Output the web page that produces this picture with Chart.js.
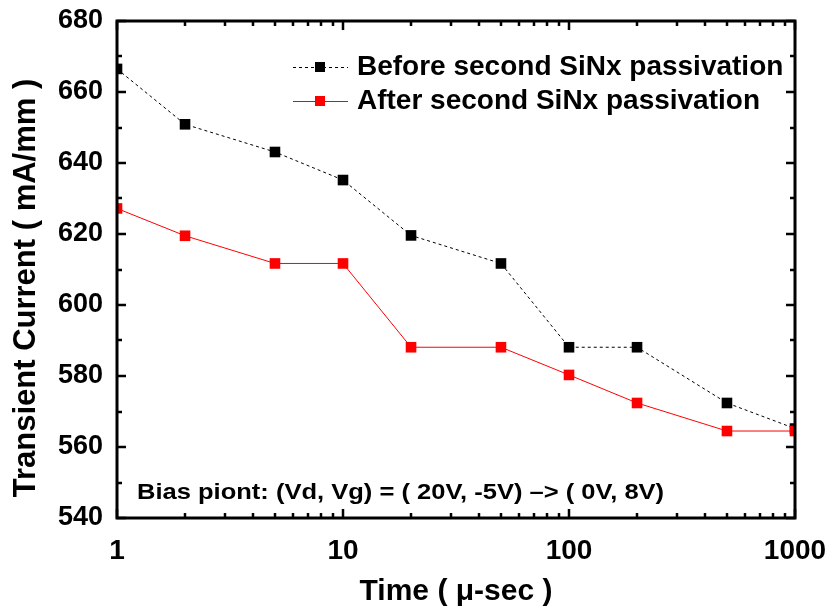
<!DOCTYPE html>
<html>
    <head>
        <meta charset="utf-8"/>
        <title>Transient Current vs Time</title>
        <script src="https://cdn.jsdelivr.net/npm/chart.js@4.4.1/dist/chart.umd.min.js"></script>
        <style>
            body { margin: 0; background: #fff; }
        </style>
    </head>

    <body>
        <canvas id="chart" width="833" height="612"></canvas>

        <script>
            // time in micro-seconds, current in mA/mm
            var times = [1, 2, 5, 10, 20, 50, 100, 200, 500, 1000];
            var beforeSiNx = [666.5, 650.9, 643.1, 635.2, 619.6, 611.7, 588.1, 588.1, 572.4, 565.2];
            var afterSiNx = [627.2, 619.5, 611.7, 611.7, 588.1, 588.1, 580.3, 572.4, 564.5, 564.5];
            var seriesNames = ['Before second SiNx passivation', 'After second SiNx passivation'];
            var xMajor = [1, 10, 100, 1000];
            var yTicks = [540, 560, 580, 600, 620, 640, 660, 680];

            var FONT = '"Liberation Sans", Arial, sans-serif';

            var toPoints = function(ys) {
                return times.map(function(t, i) { return {x: t, y: ys[i]}; });
            };

            // wide text helper (the note is drawn a bit stretched)
            var wideText = function(ctx, text, x, y, sx) {
                ctx.save();
                ctx.translate(x, y);
                ctx.scale(sx, 1);
                ctx.fillText(text, 0, 0);
                ctx.restore();
            };

            // keep the plot box fixed: no extra room for overflowing labels
            var noOverflow = function(s) {
                s.paddingLeft = 0;
                s.paddingRight = 0;
                s.paddingTop = 0;
                s.paddingBottom = 0;
            };

            // frame, inward ticks on all four sides, legend, note, axis titles
            var decorations = {
                id: 'decorations',
                afterDatasetsDraw: function(chart) {
                    var ctx = chart.ctx;
                    var a = chart.chartArea;
                    var xs = chart.scales.x, ys = chart.scales.y;
                    ctx.save();
                    ctx.strokeStyle = '#000';
                    ctx.lineWidth = 2.5;
                    ctx.beginPath();
                    for (var d = 1; d <= 1000; d *= 10) {
                        for (var k = 1; k <= 9; k++) {
                            var v = d * k;
                            if (v > 1000) break;
                            var px = Math.round(xs.getPixelForValue(v));
                            var len = k === 1 ? 9 : 5;
                            ctx.moveTo(px, a.bottom); ctx.lineTo(px, a.bottom - len);
                            ctx.moveTo(px, a.top); ctx.lineTo(px, a.top + len);
                        }
                    }
                    for (var y = 540; y <= 680; y += 10) {
                        var py = Math.round(ys.getPixelForValue(y));
                        var l = (y % 20 === 0) ? 9 : 5;
                        ctx.moveTo(a.left, py); ctx.lineTo(a.left + l, py);
                        ctx.moveTo(a.right, py); ctx.lineTo(a.right - l, py);
                    }
                    ctx.stroke();
                    ctx.lineWidth = 3;
                    ctx.strokeRect(a.left, a.top, a.right - a.left, a.bottom - a.top);
                    ctx.restore();
                },
                afterDraw: function(chart) {
                    var ctx = chart.ctx;
                    var sets = chart.data.datasets;
                    ctx.save();

                    // legend
                    var rows = [67, 101];
                    for (var i = 0; i < sets.length; i++) {
                        var ds = sets[i];
                        var ry = rows[i];
                        ctx.strokeStyle = ds.borderColor;
                        ctx.lineWidth = 1;
                        ctx.setLineDash(ds.borderDash || []);
                        ctx.beginPath();
                        ctx.moveTo(293, ry + 0.5); ctx.lineTo(348, ry + 0.5);
                        ctx.stroke();
                        ctx.setLineDash([]);
                        ctx.fillStyle = ds.backgroundColor;
                        ctx.fillRect(315, ry - 5, 10, 10);
                        ctx.fillStyle = '#000';
                        ctx.font = 'bold 28px ' + FONT;
                        ctx.textAlign = 'left';
                        ctx.textBaseline = 'middle';
                        ctx.fillText(ds.label, 357, ry);
                    }

                    // bias note
                    ctx.font = 'bold 22px ' + FONT;
                    ctx.textBaseline = 'alphabetic';
                    wideText(ctx, 'Bias piont: (Vd, Vg) = ( 20V, -5V) \u2013> ( 0V, 8V)', 137, 499, 1.16);

                    // axis titles
                    ctx.font = 'bold 30px ' + FONT;
                    ctx.textAlign = 'center';
                    ctx.fillText('Time ( \u03bc-sec )', 456, 600);
                    ctx.font = 'bold 31px ' + FONT;
                    ctx.textBaseline = 'middle';
                    ctx.translate(26, 288);
                    ctx.rotate(-Math.PI / 2);
                    ctx.fillText('Transient Current ( mA/mm )', 0, 0);
                    ctx.restore();
                }
            };

            var ctx = document.getElementById('chart');
            var myChart = new Chart(ctx, {
                type: 'line',
                data: {
                    datasets: [{
                        label: seriesNames[0],
                        data: toPoints(beforeSiNx),
                        borderColor: '#000000',
                        backgroundColor: '#000000',
                        borderWidth: 1,
                        borderDash: [3, 3],
                        pointStyle: 'rect',
                        pointRadius: 7.5,
                        pointBorderWidth: 0,
                        order: 1,
                        clip: 0
                    }, {
                        label: seriesNames[1],
                        data: toPoints(afterSiNx),
                        borderColor: '#ff0000',
                        backgroundColor: '#ff0000',
                        borderWidth: 1,
                        pointStyle: 'rect',
                        pointRadius: 7.5,
                        pointBorderWidth: 0,
                        order: 0,
                        clip: 0
                    }]
                },
                options: {
                    responsive: false,
                    animation: false,
                    layout: { padding: { top: 21, right: 38, left: 0, bottom: 0 } },
                    scales: {
                        x: {
                            type: 'logarithmic',
                            min: 1,
                            max: 1000,
                            grid: { display: false, drawTicks: false },
                            border: { display: false },
                            afterFit: function(s) { s.height = 94; noOverflow(s); },
                            afterBuildTicks: function(s) {
                                s.ticks = xMajor.map(function(v) { return {value: v}; });
                            },
                            ticks: {
                                autoSkip: false,
                                maxRotation: 0,
                                padding: 16,
                                color: '#000',
                                font: { family: FONT, size: 28, weight: 'bold' },
                                callback: function(v) { return String(v); }
                            }
                        },
                        y: {
                            min: 540,
                            max: 680,
                            grid: { display: false, drawTicks: false },
                            border: { display: false },
                            afterFit: function(s) { s.width = 117; noOverflow(s); },
                            afterBuildTicks: function(s) {
                                s.ticks = yTicks.map(function(v) { return {value: v}; });
                            },
                            ticks: {
                                padding: 14,
                                color: '#000',
                                font: { family: FONT, size: 27, weight: 'bold' }
                            }
                        }
                    },
                    plugins: {
                        legend: { display: false },
                        tooltip: { enabled: false }
                    }
                },
                plugins: [decorations]
            });
        </script>
    </body>
</html>
